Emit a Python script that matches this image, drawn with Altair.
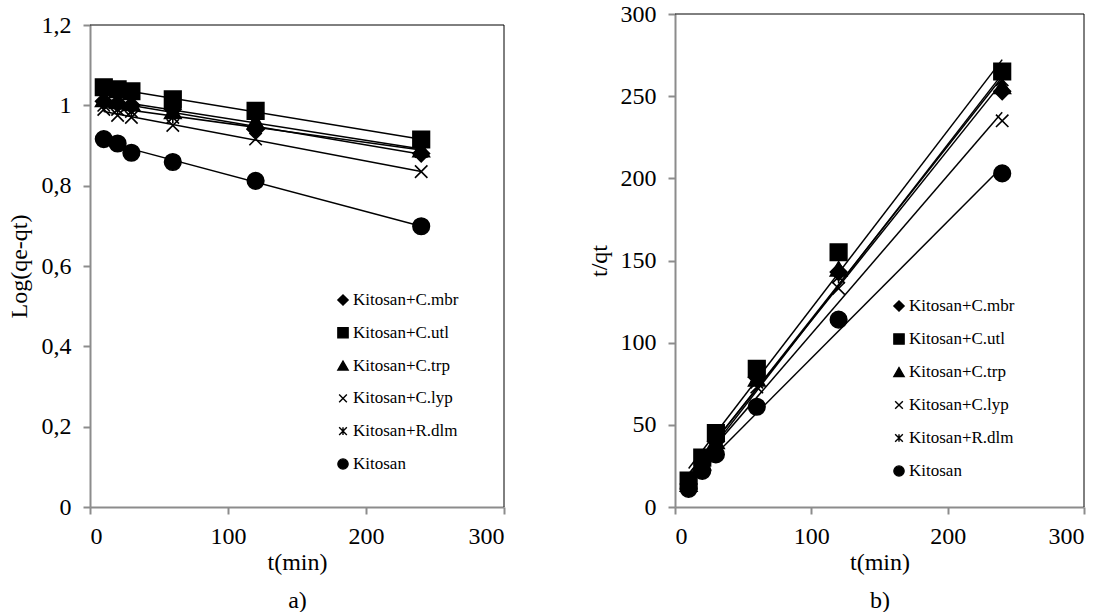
import altair as alt
import pandas as pd

t_min = [10, 20, 30, 60, 120, 240]
series = ["Kitosan+C.mbr", "Kitosan+C.utl", "Kitosan+C.trp", "Kitosan+C.lyp", "Kitosan+R.dlm", "Kitosan"]

# Panel a: Log(qe-qt)
log_mbr = [1.010, 1.005, 1.000, 0.990, 0.940, 0.880]
log_utl = [1.045, 1.040, 1.035, 1.015, 0.986, 0.915]
log_trp = [1.015, 1.010, 1.005, 0.985, 0.960, 0.890]
log_lyp = [0.990, 0.975, 0.970, 0.950, 0.916, 0.835]
log_dlm = [1.000, 0.990, 0.985, 0.970, 0.955, 0.885]
log_kit = [0.916, 0.905, 0.882, 0.859, 0.812, 0.699]

# Panel b: t/qt
tq_mbr = [14, 27, 40, 79, 143, 253]
tq_utl = [16, 30, 45, 84, 155, 265]
tq_trp = [14, 27, 40, 78, 145, 256]
tq_lyp = [13, 25, 37, 73, 133, 235]
tq_dlm = [13, 26, 38, 76, 140, 260]
tq_kit = [11, 22, 32, 61, 114, 203]

log_vals = [log_mbr, log_utl, log_trp, log_lyp, log_dlm, log_kit]
tq_vals = [tq_mbr, tq_utl, tq_trp, tq_lyp, tq_dlm, tq_kit]

rows_a, rows_b = [], []
for name, va, vb in zip(series, log_vals, tq_vals):
    for t, a, b in zip(t_min, va, vb):
        rows_a.append({"series": name, "t": t, "v": a})
        rows_b.append({"series": name, "t": t, "v": b})
df_a = pd.DataFrame(rows_a)
df_b = pd.DataFrame(rows_b)
df_leg = pd.DataFrame({"series": series})
df_one = pd.DataFrame({"k": [0]})

X_PATH = "M-0.75,-0.75L0.75,0.75M-0.75,0.75L0.75,-0.75"
STAR_PATH = "M-0.75,-0.75L0.75,0.75M-0.75,0.75L0.75,-0.75M0,-0.75L0,0.75"
shapes = ["diamond", "square", "triangle-up", X_PATH, STAR_PATH, "circle"]

FONT = "Liberation Serif"
AXIS_GRAY = "#8c8c8c"
shape_scale = alt.Scale(domain=series, range=shapes)
H = 493


def panel(df, ytitle, ymax, ystep, yfmt, label_expr, sub, w, ytop, tpad, legx, legy0, legy1, legdx):
    xscale = alt.Scale(domain=[0, 300], nice=False)
    xenc = alt.X("t:Q", scale=xscale,
                 axis=alt.Axis(values=[0, 100, 200, 300], title=["t(min)", sub],
                               titlePadding=2, titleLineHeight=38))
    yvals = [round(i * ystep, 4) for i in range(int(round(ymax / ystep)) + 1)]
    if label_expr:
        yaxis = alt.Axis(values=yvals, title=ytitle, format=yfmt, labelExpr=label_expr, titlePadding=tpad)
    else:
        yaxis = alt.Axis(values=yvals, title=ytitle, format=yfmt, titlePadding=tpad)
    yscale = alt.Scale(domain=[0, ymax], nice=False, range=[H, ytop])
    base = alt.Chart(df)
    pts = base.mark_point(filled=False, fill="black", stroke="black", strokeWidth=1.6,
                          opacity=1, fillOpacity=1, size=275).encode(
        x=xenc, y=alt.Y("v:Q", scale=yscale, axis=yaxis),
        shape=alt.Shape("series:N", scale=shape_scale, legend=None),
    )
    lines = base.transform_regression("t", "v", groupby=["series"]).mark_line(
        color="black", strokeWidth=1.5).encode(
        x="t:Q", y=alt.Y("v:Q", scale=yscale), detail="series:N")
    frame = alt.Chart(df_one)
    top_rule = frame.mark_rule(color="black", strokeWidth=1).encode(
        x=alt.datum(0), x2=alt.datum(300), y=alt.datum(ymax))
    right_rule = frame.mark_rule(color="black", strokeWidth=1).encode(
        x=alt.datum(300), y=alt.datum(0), y2=alt.datum(ymax))
    main = alt.layer(top_rule, right_rule, pts, lines)

    ly = alt.Y("series:N", scale=alt.Scale(type="point", domain=series, range=[legy0, legy1], padding=0),
               axis=None)
    leg = alt.Chart(df_leg)
    leg_pts = leg.mark_point(filled=False, fill="black", stroke="black", strokeWidth=1.4,
                             opacity=1, fillOpacity=1, size=105).encode(
        x=alt.value(legx), y=ly, shape=alt.Shape("series:N", scale=shape_scale, legend=None))
    leg_txt = leg.mark_text(align="left", baseline="middle", dx=legdx, font=FONT, fontSize=17,
                            color="black").encode(x=alt.value(legx), y=ly, text="series:N")
    legend = alt.layer(leg_pts, leg_txt)
    return alt.layer(main, legend).resolve_scale(y="independent").properties(width=w, height=H)


pa = panel(df_a, "Log(qe-qt)", 1.2, 0.2, ".2~f", "replace(datum.label, '.', ',')", "a)",
           414, 11, 10, 253, 286, 450, 10)
pb = panel(df_b, "t/qt", 300, 50, "d", None, "b)", 409, 0, 9, 224, 292, 457, 10)

chart = alt.hconcat(pa, pb, spacing=82).properties(
    padding={"left": 7, "top": 2, "right": 2, "bottom": 0}, background="white"
).configure_view(
    stroke=None
).configure_axis(
    grid=False, domainColor=AXIS_GRAY, domainWidth=2, tickColor=AXIS_GRAY, tickWidth=2, tickSize=7,
    labelFont=FONT, labelFontSize=24, labelColor="black", labelPadding=10,
    titleFont=FONT, titleFontSize=24, titleColor="black", titleFontWeight="normal",
).configure_axisY(labelPadding=12)

chart.save("out.html", embed_options={"renderer": "svg", "actions": False})
